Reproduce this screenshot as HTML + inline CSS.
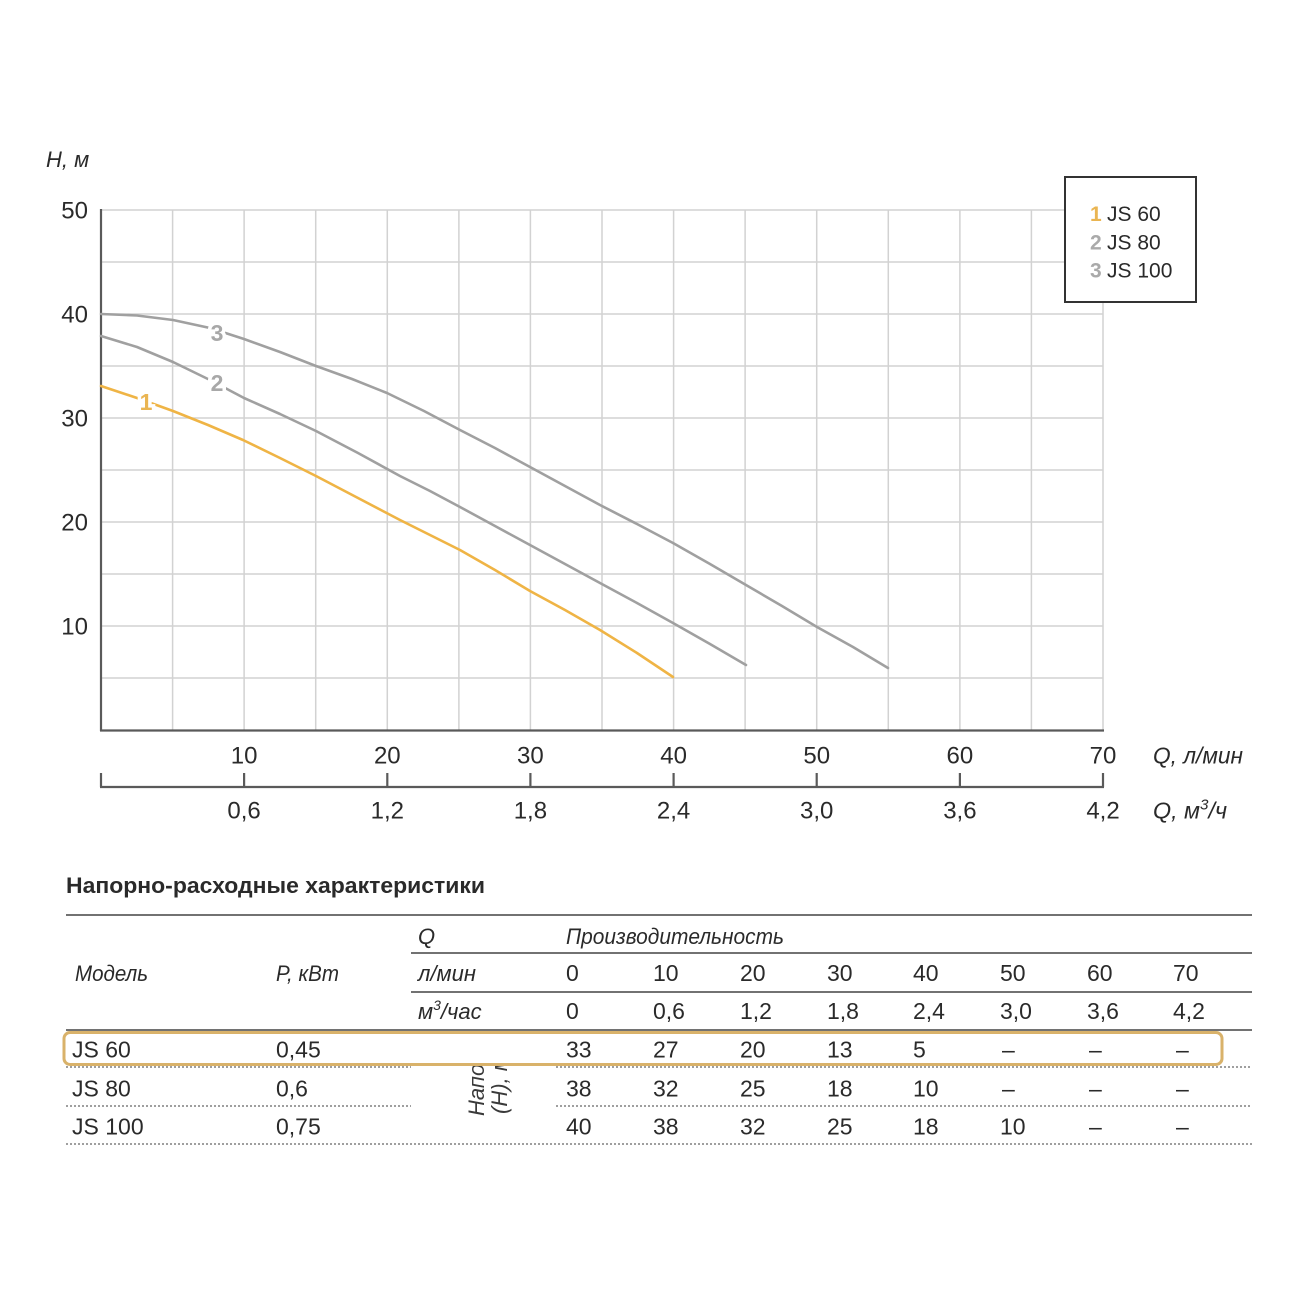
<!DOCTYPE html>
<html><head><meta charset="utf-8"><style>
html,body{margin:0;padding:0;background:#fff;}
svg{display:block;}
text{font-family:"Liberation Sans","DejaVu Sans",sans-serif;fill:#2a2a2a;}
.it{font-style:italic;}
</style></head><body>
<svg width="1300" height="1300" viewBox="0 0 1300 1300" xmlns="http://www.w3.org/2000/svg">
<rect width="1300" height="1300" fill="#fff"/>
<!-- grid -->
<g stroke="#d2d2d2" stroke-width="1.5" fill="none">
<line x1="101" y1="210" x2="1103" y2="210"/>
<line x1="101" y1="262" x2="1103" y2="262"/>
<line x1="101" y1="314" x2="1103" y2="314"/>
<line x1="101" y1="366" x2="1103" y2="366"/>
<line x1="101" y1="418" x2="1103" y2="418"/>
<line x1="101" y1="470" x2="1103" y2="470"/>
<line x1="101" y1="522" x2="1103" y2="522"/>
<line x1="101" y1="574" x2="1103" y2="574"/>
<line x1="101" y1="626" x2="1103" y2="626"/>
<line x1="101" y1="678" x2="1103" y2="678"/>
<line x1="172.6" y1="210" x2="172.6" y2="730"/>
<line x1="244.1" y1="210" x2="244.1" y2="730"/>
<line x1="315.7" y1="210" x2="315.7" y2="730"/>
<line x1="387.3" y1="210" x2="387.3" y2="730"/>
<line x1="458.9" y1="210" x2="458.9" y2="730"/>
<line x1="530.4" y1="210" x2="530.4" y2="730"/>
<line x1="602" y1="210" x2="602" y2="730"/>
<line x1="673.6" y1="210" x2="673.6" y2="730"/>
<line x1="745.1" y1="210" x2="745.1" y2="730"/>
<line x1="816.7" y1="210" x2="816.7" y2="730"/>
<line x1="888.3" y1="210" x2="888.3" y2="730"/>
<line x1="959.9" y1="210" x2="959.9" y2="730"/>
<line x1="1031.4" y1="210" x2="1031.4" y2="730"/>
<line x1="1103" y1="210" x2="1103" y2="730"/>
</g>
<!-- axes -->
<g stroke="#5a5a5a" stroke-width="2.2" fill="none">
<line x1="101" y1="209" x2="101" y2="731"/>
<line x1="100" y1="730.5" x2="1104" y2="730.5"/>
<line x1="100" y1="787" x2="1104" y2="787"/>
<line x1="101" y1="773" x2="101" y2="787"/>
<line x1="244.1" y1="773" x2="244.1" y2="787"/>
<line x1="387.3" y1="773" x2="387.3" y2="787"/>
<line x1="530.4" y1="773" x2="530.4" y2="787"/>
<line x1="673.6" y1="773" x2="673.6" y2="787"/>
<line x1="816.7" y1="773" x2="816.7" y2="787"/>
<line x1="959.9" y1="773" x2="959.9" y2="787"/>
<line x1="1103" y1="773" x2="1103" y2="787"/>
</g>
<!-- curves -->
<g fill="none" stroke-width="2.6" stroke-linejoin="round" stroke-linecap="round">
<polyline stroke="#a0a0a0" points="101,314 137,315.5 173,320 210,328 244,339 280,352 316,366 352,379 387,393 424,411 460,430 495,448 530,467 565,486 600,505 637,524 673,543 710,564 746,585 782,606 817,627 853,647 888,668"/>
<polyline stroke="#a0a0a0" points="101,336 137,347 173,362 210,380 244,398 280,414 316,431 358,453 400,476 430,491 460,507 495,526 530,545 565,564 600,583 637,603 673,623 710,644 746,665"/>
<polyline stroke="#efb445" points="101,386 137,398 173,411 208,425 243,440 280,458 316,476 358,498 400,520 430,535 460,550 495,570 530,591 565,610 600,630 637,653 673,677"/>
</g>
<!-- curve labels -->
<g font-size="23" font-weight="bold" text-anchor="middle" stroke="#fff" stroke-width="7" paint-order="stroke" style="paint-order:stroke">
<text x="146" y="410" style="fill:#eab552">1</text>
<text x="217" y="391" style="fill:#a8a8a8">2</text>
<text x="217" y="341" style="fill:#a8a8a8">3</text>
</g>
<!-- y labels -->
<g font-size="24" text-anchor="end">
<text x="88" y="218.5">50</text>
<text x="88" y="322.5">40</text>
<text x="88" y="426.5">30</text>
<text x="88" y="530.5">20</text>
<text x="88" y="634.5">10</text>
</g>
<text class="it" x="46" y="167" font-size="22">H, м</text>
<!-- x labels -->
<g font-size="24" text-anchor="middle">
<text x="244.1" y="763.5">10</text>
<text x="387.3" y="763.5">20</text>
<text x="530.4" y="763.5">30</text>
<text x="673.6" y="763.5">40</text>
<text x="816.7" y="763.5">50</text>
<text x="959.9" y="763.5">60</text>
<text x="1103" y="763.5">70</text>
<text x="244.1" y="818.5">0,6</text>
<text x="387.3" y="818.5">1,2</text>
<text x="530.4" y="818.5">1,8</text>
<text x="673.6" y="818.5">2,4</text>
<text x="816.7" y="818.5">3,0</text>
<text x="959.9" y="818.5">3,6</text>
<text x="1103" y="818.5">4,2</text>
</g>
<text class="it" x="1153" y="763.5" font-size="23" textLength="90" lengthAdjust="spacingAndGlyphs">Q, л/мин</text>
<text class="it" x="1153" y="818.5" font-size="23" textLength="74" lengthAdjust="spacingAndGlyphs">Q, м<tspan font-size="15" dy="-9">3</tspan><tspan dy="9">/ч</tspan></text>
<!-- legend -->
<rect x="1065" y="177" width="131" height="125" fill="#fff" stroke="#333" stroke-width="2"/>
<g font-size="21">
<text x="1090" y="221" style="fill:#eab552;font-weight:bold">1</text>
<text x="1107" y="221">JS 60</text>
<text x="1090" y="249.5" style="fill:#aaa;font-weight:bold">2</text>
<text x="1107" y="249.5">JS 80</text>
<text x="1090" y="277.5" style="fill:#aaa;font-weight:bold">3</text>
<text x="1107" y="277.5">JS 100</text>
</g>
<!-- table -->
<text x="66" y="893" font-size="22" font-weight="bold" textLength="419" lengthAdjust="spacingAndGlyphs">Напорно-расходные характеристики</text>
<g stroke="#444" stroke-width="1.6">
<line x1="66" y1="915" x2="1252" y2="915"/>
<line x1="411" y1="953" x2="1252" y2="953"/>
<line x1="411" y1="992" x2="1252" y2="992"/>
<line x1="66" y1="1030" x2="1252" y2="1030"/>
</g>
<g stroke="#666" stroke-width="1.3" stroke-dasharray="2,2">
<line x1="66" y1="1067" x2="411" y2="1067"/>
<line x1="556" y1="1067" x2="1252" y2="1067"/>
<line x1="66" y1="1106" x2="411" y2="1106"/>
<line x1="556" y1="1106" x2="1252" y2="1106"/>
<line x1="66" y1="1144" x2="1252" y2="1144"/>
</g>
<g font-size="22" class="it" style="fill:#3a3a3a">
<text class="it" x="418" y="944">Q</text>
<text class="it" x="566" y="944" textLength="218" lengthAdjust="spacingAndGlyphs">Производительность</text>
<text class="it" x="75" y="981" textLength="73" lengthAdjust="spacingAndGlyphs">Модель</text>
<text class="it" x="276" y="981" textLength="63" lengthAdjust="spacingAndGlyphs">P, кВт</text>
<text class="it" x="418" y="981" textLength="58" lengthAdjust="spacingAndGlyphs">л/мин</text>
<text class="it" x="418" y="1019">м<tspan font-size="14" dy="-9">3</tspan><tspan dy="9">/час</tspan></text>
</g>
<g font-size="23">
<text x="566" y="981">0</text><text x="653" y="981">10</text><text x="740" y="981">20</text><text x="827" y="981">30</text><text x="913" y="981">40</text><text x="1000" y="981">50</text><text x="1087" y="981">60</text><text x="1173" y="981">70</text>
<text x="566" y="1019">0</text><text x="653" y="1019">0,6</text><text x="740" y="1019">1,2</text><text x="827" y="1019">1,8</text><text x="913" y="1019">2,4</text><text x="1000" y="1019">3,0</text><text x="1087" y="1019">3,6</text><text x="1173" y="1019">4,2</text>

<text x="72" y="1057.5">JS 60</text><text x="276" y="1057.5">0,45</text>
<text x="566" y="1057.5">33</text><text x="653" y="1057.5">27</text><text x="740" y="1057.5">20</text><text x="827" y="1057.5">13</text><text x="913" y="1057.5">5</text><text x="1002" y="1057.5">–</text><text x="1089" y="1057.5">–</text><text x="1176" y="1057.5">–</text>

<text x="72" y="1096.5">JS 80</text><text x="276" y="1096.5">0,6</text>
<text x="566" y="1096.5">38</text><text x="653" y="1096.5">32</text><text x="740" y="1096.5">25</text><text x="827" y="1096.5">18</text><text x="913" y="1096.5">10</text><text x="1002" y="1096.5">–</text><text x="1089" y="1096.5">–</text><text x="1176" y="1096.5">–</text>

<text x="72" y="1134.5">JS 100</text><text x="276" y="1134.5">0,75</text>
<text x="566" y="1134.5">40</text><text x="653" y="1134.5">38</text><text x="740" y="1134.5">32</text><text x="827" y="1134.5">25</text><text x="913" y="1134.5">18</text><text x="1000" y="1134.5">10</text><text x="1089" y="1134.5">–</text><text x="1176" y="1134.5">–</text>
</g>
<!-- rotated label -->
<defs><clipPath id="cl"><rect x="440" y="1063" width="90" height="70"/></clipPath></defs>
<g clip-path="url(#cl)" font-size="22">
<text class="it" transform="translate(484,1116) rotate(-90)" style="fill:#3a3a3a">Напор</text>
<text class="it" transform="translate(507,1114) rotate(-90)" style="fill:#3a3a3a">(H), м</text>
</g>
<!-- highlight -->
<rect x="64" y="1032.5" width="1158" height="32" rx="6" ry="6" fill="none" stroke="#d9b26a" stroke-width="3"/>
</svg>
</body></html>
